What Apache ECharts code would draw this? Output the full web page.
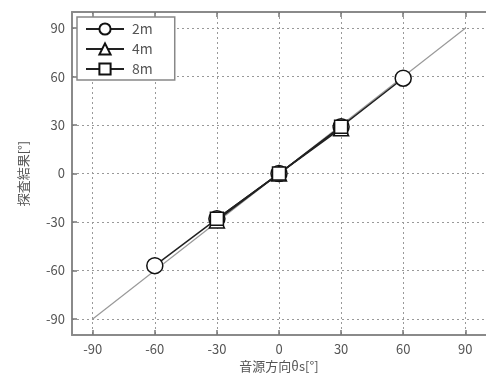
<!DOCTYPE html>
<html><head><meta charset="utf-8">
<script src="https://cdn.jsdelivr.net/npm/echarts@6/dist/echarts.min.js"></script>
<style>html,body{margin:0;padding:0;background:#fff}#c{width:486px;height:378px}</style>
</head><body><div id="c"></div>
<script>
const tickValues = [-90, -60, -30, 0, 30, 60, 90];
const idealX = [-90, 90];
const idealY = [-90, 90];
const x2m = [-60, -30, 0, 30, 60];
const y2m = [-57, -28, 0, 29, 59];
const x4m = [-30, 0, 30];
const y4m = [-29, 0, 28];
const x8m = [-30, 0, 30];
const y8m = [-28, 0, 29];
const names = ['2m', '4m', '8m'];

const pair = (xs, ys) => xs.map((x, i) => [x, ys[i]]);
const font = "'Noto Sans CJK JP', 'DejaVu Sans', sans-serif";
const chart = echarts.init(document.getElementById('c'), null, {renderer: 'canvas'});

function axisBase(pos, showLabel) {
  return {
    type: 'value', min: -100, max: 100, position: pos,
    axisLine: {show: true, onZero: false, lineStyle: {color: '#8a8a8a', width: 2}},
    axisTick: {show: true, inside: true, length: 5, customValues: tickValues, lineStyle: {color: '#777', width: 1.5}},
    axisLabel: {show: showLabel, customValues: tickValues, color: '#555', fontSize: 13, fontFamily: font, margin: 7},
    splitLine: {show: false}
  };
}
const xBottom = Object.assign(axisBase('bottom', true), {
  name: '音源方向θs[°]', nameLocation: 'middle', nameGap: 22,
  nameTextStyle: {color: '#555', fontSize: 13, fontFamily: font},
  splitLine: {show: true, lineStyle: {color: '#999', type: [2, 3], width: 1}}
});
const xTop = axisBase('top', false);
const yLeft = Object.assign(axisBase('left', true), {
  name: '探査結果[°]', nameLocation: 'middle', nameGap: 42, nameRotate: 90,
  nameTextStyle: {color: '#555', fontSize: 13, fontFamily: font},
  splitLine: {show: true, lineStyle: {color: '#999', type: [2, 3], width: 1}}
});
const yRight = Object.assign(axisBase('right', false), {axisLine: {show: false}, axisTick: {show: false}});

const mkStyle = {color: '#fff', borderColor: '#111', borderWidth: 1.5};
chart.setOption({
  animation: false,
  grid: {left: 72, right: -6, top: 12, bottom: 40},
  xAxis: [xBottom, xTop],
  yAxis: [yLeft, yRight],
  legend: {
    show: true, orient: 'vertical', left: 77, top: 17,
    data: names, itemWidth: 38, itemHeight: 14, itemGap: 6,
    backgroundColor: '#fff', borderColor: '#888', borderWidth: 1.5, borderRadius: 0,
    padding: [5, 22, 4, 8],
    textStyle: {color: '#555', fontSize: 14, fontFamily: font, padding: [0, 0, 0, 3]}
  },
  series: [
    {type: 'line', name: 'ideal', data: pair(idealX, idealY), showSymbol: false, symbol: 'none',
     lineStyle: {color: '#999', width: 1.2}, z: 1, silent: true},
    {type: 'line', name: '2m', data: pair(x2m, y2m), symbol: 'circle', symbolSize: 16,
     lineStyle: {color: '#222', width: 1.5}, itemStyle: mkStyle, z: 3},
    {type: 'line', name: '4m', data: pair(x4m, y4m), symbol: 'triangle', symbolSize: 15,
     lineStyle: {color: '#222', width: 1.5}, itemStyle: mkStyle, z: 4},
    {type: 'line', name: '8m', data: pair(x8m, y8m), symbol: 'rect', symbolSize: 13,
     lineStyle: {color: '#222', width: 1.5}, itemStyle: mkStyle, z: 5}
  ]
});
</script></body></html>
